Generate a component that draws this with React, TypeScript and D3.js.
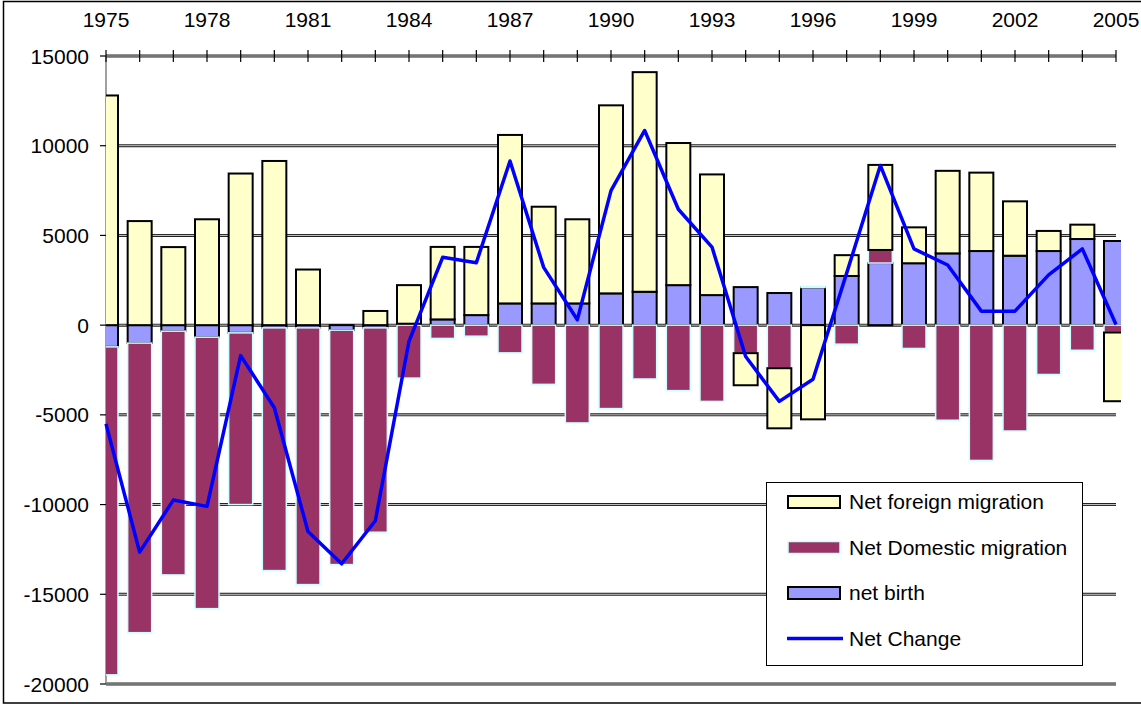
import * as d3 from "d3";
import { useEffect, useRef } from "react";

const years = [
  1975, 1976, 1977, 1978, 1979, 1980, 1981, 1982, 1983, 1984, 1985, 1986, 1987, 1988, 1989, 1990,
  1991, 1992, 1993, 1994, 1995, 1996, 1997, 1998, 1999, 2000, 2001, 2002, 2003, 2004, 2005,
];

const netForeign = [
  12800, 5800, 4350, 5900, 8450, 9150, 3100, 0, 790, 2150, 4040, 3800, 9390, 5390, 4690, 10480,
  12240, 7920, 6725, -1790, -3350, -5250, 1160, 4740, 2000, 4600, 4370, 3030, 1120, 800, -3830,
];

const netDomestic = [
  -18280, -16140, -13585, -15130, -9570, -13530, -14310, -13065, -11390, -2950, -740, -615, -1545,
  -3300, -5450, -4650, -3000, -3650, -4250, -1560, -2400, 60, -1060, 730, -1300, -5300, -7540,
  -5900, -2750, -1400, -410,
];

const netBirth = [
  -1210, -1000, -335, -670, -430, -150, -150, -280, -150, 80, 320, 560, 1210, 1210, 1210, 1770,
  1860, 2230, 1675, 2120, 1790, 2100, 2740, 3460, 3450, 4000, 4130, 3870, 4130, 4800, 4690,
];

const netChange = [
  -5500, -12650, -9750, -10100, -1700, -4600, -11500, -13300, -10900, -900, 3780, 3480, 9150,
  3220, 300, 7500, 10850, 6460, 4350, -1750, -4250, -3020, 2900, 8900, 4250, 3350, 780, 780,
  2800, 4250, 40,
];

const yearLabels = [1975, 1978, 1981, 1984, 1987, 1990, 1993, 1996, 1999, 2002, 2005];
const yTicks = [15000, 10000, 5000, 0, -5000, -10000, -15000, -20000];

const legendItems = [
  { label: "Net foreign migration", type: "bar", fill: "#FFFFCC", stroke: "#000" },
  { label: "Net Domestic migration", type: "bar", fill: "#993366", stroke: "#CCFFFF" },
  { label: "net birth", type: "bar", fill: "#9999FF", stroke: "#000" },
  { label: "Net Change", type: "line", fill: "none", stroke: "#0000FF" },
];

const seriesStyle = {
  birth: { fill: "#9999FF", stroke: "#000", sw: 2 },
  domestic: { fill: "#993366", stroke: "#CCFFFF", sw: 1.5 },
  foreign: { fill: "#FFFFCC", stroke: "#000", sw: 2 },
};

const FONT = "'Liberation Sans', Arial, Helvetica, sans-serif";

const MigrationChart = ({ width, height }) => {
  const svgRef = useRef(null);

  useEffect(() => {
    const svg = d3.select(svgRef.current);
    svg.selectAll("*").remove();
    svg.attr("width", width).attr("height", height);

    const left = 106;
    const right = 1116;
    const top = 56;
    const bottom = 684;

    const x = d3.scalePoint().domain(years.map(String)).range([left, right]);
    const y = d3.scaleLinear().domain([-20000, 15000]).range([bottom, top]);
    const barW = 24;

    // outer chart border
    svg
      .append("rect")
      .attr("x", 3.5)
      .attr("y", 1.5)
      .attr("width", 1160)
      .attr("height", 701.5)
      .attr("fill", "#fff")
      .attr("stroke", "#000")
      .attr("stroke-width", 1.5);

    const doubleLine = (g, x1, x2, yy) => {
      g.append("line")
        .attr("x1", x1)
        .attr("x2", x2)
        .attr("y1", yy)
        .attr("y2", yy)
        .attr("stroke", "#222")
        .attr("stroke-width", 3);
      g.append("line")
        .attr("x1", x1)
        .attr("x2", x2)
        .attr("y1", yy)
        .attr("y2", yy)
        .attr("stroke", "#c8c8c8")
        .attr("stroke-width", 1);
    };

    // gridlines
    const grid = svg.append("g");
    yTicks.forEach((t) => doubleLine(grid, left, right, y(t)));

    // left axis
    svg
      .append("line")
      .attr("x1", left)
      .attr("x2", left)
      .attr("y1", top)
      .attr("y2", bottom)
      .attr("stroke", "#808080")
      .attr("stroke-width", 1.5);

    svg
      .selectAll(".ytick")
      .data(yTicks)
      .enter()
      .append("line")
      .attr("x1", left - 6)
      .attr("x2", left)
      .attr("y1", (d) => y(d))
      .attr("y2", (d) => y(d))
      .attr("stroke", "#000")
      .attr("stroke-width", 1.2);

    svg
      .selectAll(".ylabel")
      .data(yTicks)
      .enter()
      .append("text")
      .attr("x", 89)
      .attr("y", (d) => y(d) + 7.5)
      .attr("text-anchor", "end")
      .attr("font-family", FONT)
      .attr("font-size", 21)
      .attr("fill", "#000")
      .text((d) => d);

    // top axis ticks and labels
    svg
      .selectAll(".xtick")
      .data(years)
      .enter()
      .append("line")
      .attr("x1", (d) => x(String(d)))
      .attr("x2", (d) => x(String(d)))
      .attr("y1", top - 6)
      .attr("y2", top + 6)
      .attr("stroke", "#000")
      .attr("stroke-width", 1.2);

    svg
      .selectAll(".xlabel")
      .data(yearLabels)
      .enter()
      .append("text")
      .attr("x", (d) => x(String(d)))
      .attr("y", 27)
      .attr("text-anchor", "middle")
      .attr("font-family", FONT)
      .attr("font-size", 21)
      .attr("fill", "#000")
      .text((d) => d);

    // stacked bars
    const rows = years.map((yr, i) => ({
      year: String(yr),
      birth: netBirth[i],
      domestic: netDomestic[i],
      foreign: netForeign[i],
    }));
    const stacked = d3
      .stack()
      .keys(["birth", "domestic", "foreign"])
      .offset(d3.stackOffsetDiverging)(rows);

    svg
      .append("defs")
      .append("clipPath")
      .attr("id", "plotClip")
      .append("rect")
      .attr("x", left)
      .attr("y", 0)
      .attr("width", 1121 - left)
      .attr("height", height);

    const bars = svg.append("g").attr("clip-path", "url(#plotClip)");
    stacked.forEach((s) => {
      const st = seriesStyle[s.key];
      bars
        .append("g")
        .selectAll("rect")
        .data(s.filter((d) => d[1] - d[0] !== 0))
        .enter()
        .append("rect")
        .attr("x", (d) => x(d.data.year) - barW / 2)
        .attr("width", barW)
        .attr("y", (d) => y(Math.max(d[0], d[1])))
        .attr("height", (d) => Math.abs(y(d[0]) - y(d[1])))
        .attr("fill", st.fill)
        .attr("stroke", st.stroke)
        .attr("stroke-width", st.sw);
    });

    // net change line
    const line = d3
      .line()
      .x((d, i) => x(String(years[i])))
      .y((d) => y(d));
    svg
      .append("path")
      .attr("d", line(netChange))
      .attr("fill", "none")
      .attr("stroke", "#0000FF")
      .attr("stroke-width", 3.5)
      .attr("stroke-linejoin", "round");

    // legend
    const lg = svg.append("g");
    lg.append("rect")
      .attr("x", 766.5)
      .attr("y", 482.5)
      .attr("width", 316)
      .attr("height", 183)
      .attr("fill", "#fff")
      .attr("stroke", "#000")
      .attr("stroke-width", 1);

    legendItems.forEach((it, i) => {
      const cy = 502 + i * 45.5;
      if (it.type === "bar") {
        lg.append("rect")
          .attr("x", 788)
          .attr("y", cy - 6)
          .attr("width", 52)
          .attr("height", 12)
          .attr("fill", it.fill)
          .attr("stroke", it.stroke)
          .attr("stroke-width", it.stroke === "#000" ? 2 : 1.5);
      } else {
        lg.append("line")
          .attr("x1", 787)
          .attr("x2", 843)
          .attr("y1", cy)
          .attr("y2", cy)
          .attr("stroke", it.stroke)
          .attr("stroke-width", 3.5);
      }
      lg.append("text")
        .attr("x", 849)
        .attr("y", cy + 7)
        .attr("font-family", FONT)
        .attr("font-size", 21)
        .attr("fill", "#000")
        .text(it.label);
    });
  }, [width, height]);

  return <svg ref={svgRef} style={{ position: "absolute", left: 0, top: 0 }}></svg>;
};

export default function App() {
  return <MigrationChart width={1141} height={704} />;
}
